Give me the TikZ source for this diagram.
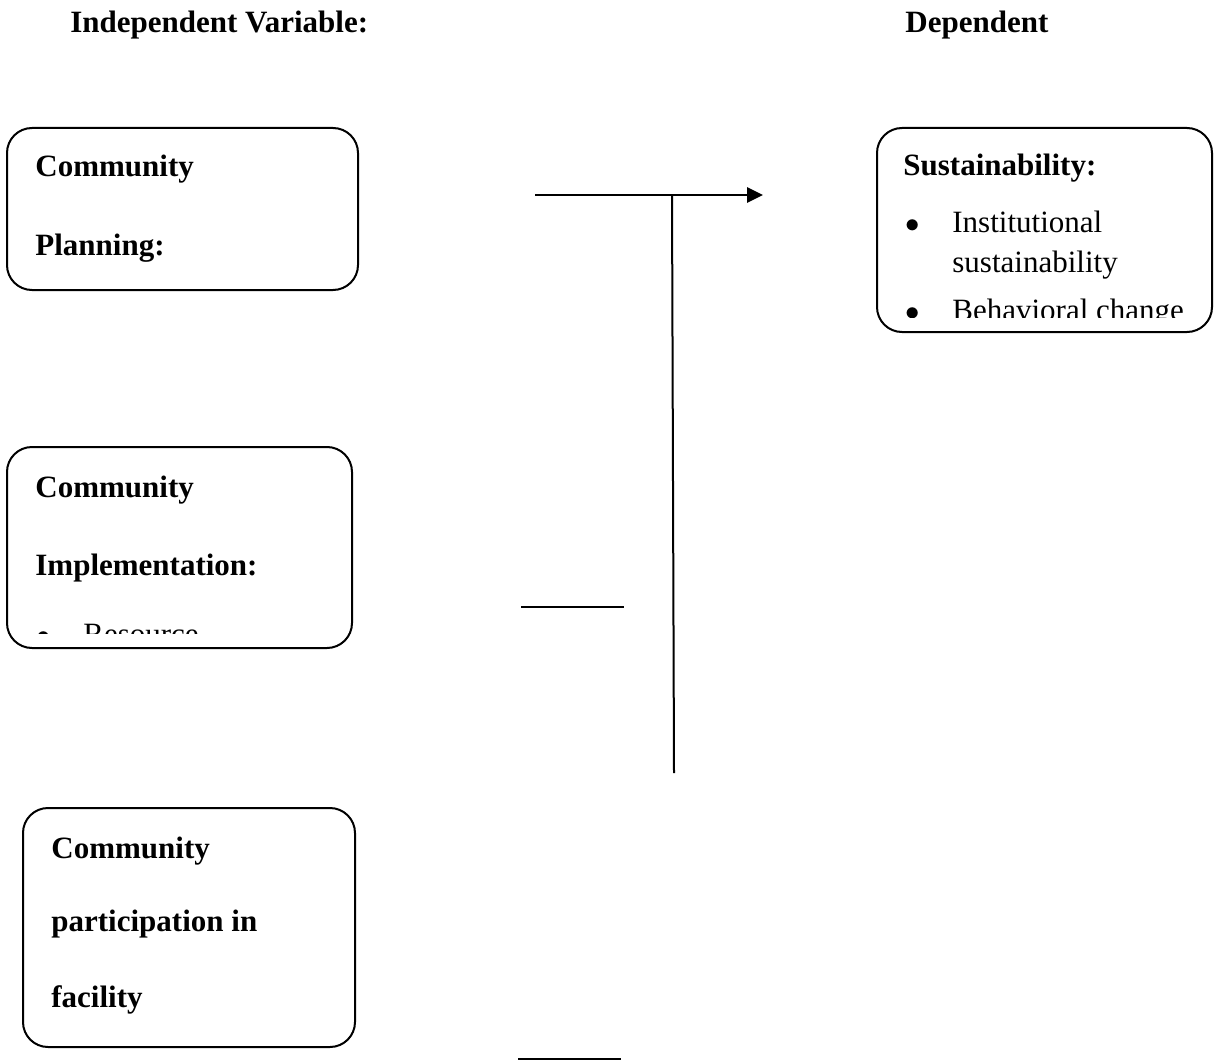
\documentclass[tikz,border=0pt]{standalone}
\usepackage{fontspec}
\setmainfont{Liberation Serif}
\usetikzlibrary{arrows.meta}

\begin{document}
\begin{tikzpicture}[
		x=0.5pt, y=-0.5pt,
		%Option for nice arrows
		>={Triangle[length=8pt,width=7.5pt]}, %
		every node/.style={font=\fontsize{15.5pt}{18pt}\selectfont},
		box/.style={draw, line width=1pt, rounded corners=12.5pt,
			inner sep=0pt, outer sep=0pt},
		head/.style={anchor=base west, inner sep=0pt, font=\fontsize{15.5pt}{18pt}\selectfont\bfseries},
		item/.style={anchor=base west, inner sep=0pt},
		link/.style={line width=1.4pt},
		stem/.style={line width=1pt},
	]
		\useasboundingbox (0,0) rectangle (1214,1064);

		% Titles
		\node[head] (indep) at (70,33) {Independent Variable:};
		\node[head] (dep) at (905,33) {Dependent};

		% Boxes
		\node[box, minimum width=175.5pt, minimum height=81pt] (plan) at (182.5,209) {};
		\node[box, minimum width=172.5pt, minimum height=100.5pt] (impl) at (179.5,547.5) {};
		\node[box, minimum width=166pt, minimum height=119.5pt] (part) at (189,927.5) {};
		\node[box, minimum width=167.5pt, minimum height=102pt] (sust) at (1044.5,230) {};

		% Box texts
		\node[head] (plan1) at (35,177) {Community};
		\node[head] (plan2) at (35,256) {Planning:};

		\begin{scope}
			\clip (7,447) rectangle (352,633);
			\node[head] (impl1) at (35,497) {Community};
			\node[head] (impl2) at (35,575) {Implementation:};
			\node[item] (impl3) at (36,644) {$\bullet$};
			\node[item] (impl4) at (83,644) {Resource};
		\end{scope}

		\node[head] (part1) at (51,858) {Community};
		\node[head] (part2) at (51,931) {participation in};
		\node[head] (part3) at (51,1007) {facility};

		\begin{scope}
			\clip (877,128) rectangle (1212,317);
			\node[head] (sust1) at (903,176) {Sustainability:};
			\node[item] (sust2) at (905,233) {$\bullet$};
			\node[item] (sust3) at (952,233) {Institutional};
			\node[item] (sust4) at (952,272) {sustainability};
			\node[item] (sust5) at (905,320) {$\bullet$};
			\node[item] (sust6) at (952,320) {Behavioral change};
		\end{scope}

		% Connectors
		\coordinate (arrA) at (535,195);
		\coordinate (arrB) at (763,195);
		\coordinate (stemA) at (672,195);
		\coordinate (stemB) at (674,773);
		\coordinate (midA) at (521,607);
		\coordinate (midB) at (624,607);
		\coordinate (lowA) at (518,1059);
		\coordinate (lowB) at (621,1059);

		\draw[link, ->] (arrA) -- (arrB);
		\draw[stem] (stemA) -- (stemB);
		\draw[link] (midA) -- (midB);
		\draw[link] (lowA) -- (lowB);
	\end{tikzpicture}
\end{document}
